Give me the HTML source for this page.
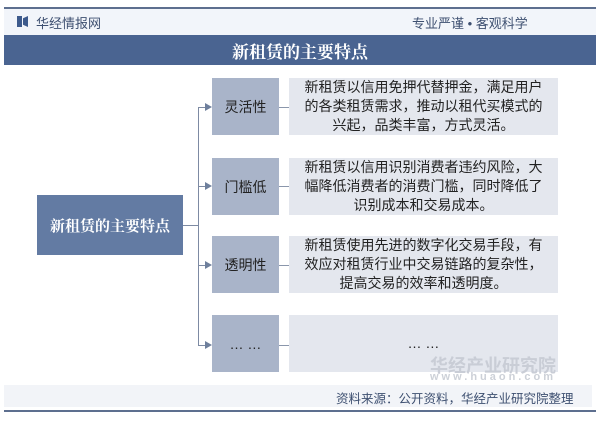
<!DOCTYPE html>
<html><head><meta charset="utf-8"><style>
*{margin:0;padding:0;box-sizing:border-box}
body{width:600px;height:421px;background:#fff;position:relative;overflow:hidden;font-family:"Liberation Sans","Noto Sans CJK SC",sans-serif}
.a{position:absolute}
.lab{position:absolute;left:212px;width:67px;height:57px;background:#a9b4c9;color:#222;font-size:14px;display:flex;align-items:center;justify-content:center}
.desc{position:absolute;left:289px;width:269px;height:57px;background:#e4e7ee;color:#222;font-size:14px;line-height:19px;display:flex;align-items:center;justify-content:center;text-align:center;padding:0 13px}
.h{position:absolute;left:279px;width:10px;height:1px;background:#8a96ab}
.ah{position:absolute;left:198px;width:8px;height:1px;background:#7d8aa3}
.tri{position:absolute;left:205px;width:0;height:0;border-left:7px solid #6e7f9c;border-top:4px solid transparent;border-bottom:4px solid transparent}
</style></head><body>
<div class="a" style="left:4px;top:7px;width:592px;height:2px;background:#5d6f8f"></div>
<div class="a" style="left:4px;top:9px;width:592px;height:26px;background:#f2f5fa"></div>
<div class="a" style="left:17px;top:16px;width:5px;height:11px;background:#3d5a8c"></div>
<div class="a" style="left:23px;top:16px;width:5px;height:11px;background:#3d5a8c;clip-path:polygon(0 20%,100% 0,100% 100%,0 80%)"></div>
<div class="a" style="left:36px;top:13px;font-size:13px;color:#3d4f70">华经情报网</div>
<div class="a" style="left:412px;top:13px;font-size:13px;color:#3d4f70">专业严谨 • 客观科学</div>
<div class="a" style="left:4px;top:35px;width:592px;height:30px;background:#4a6491;color:#fff;font-family:'Liberation Serif','Noto Serif CJK SC',serif;font-weight:bold;font-size:17px;display:flex;align-items:center;justify-content:center">新租赁的主要特点</div>

<div class="a" style="left:37px;top:195px;width:146px;height:60px;background:#637ba3;color:#fff;font-family:'Liberation Serif','Noto Serif CJK SC',serif;font-weight:bold;font-size:15px;display:flex;align-items:center;justify-content:center">新租赁的主要特点</div>
<div class="a" style="left:183px;top:225px;width:15px;height:1px;background:#7d8aa3"></div>
<div class="a" style="left:198px;top:107px;width:1px;height:239px;background:#7d8aa3"></div>

<div class="ah" style="top:107px"></div><div class="tri" style="top:103px"></div>
<div class="ah" style="top:186px"></div><div class="tri" style="top:182px"></div>
<div class="ah" style="top:265px"></div><div class="tri" style="top:261px"></div>
<div class="ah" style="top:345px"></div><div class="tri" style="top:341px"></div>

<div class="lab" style="top:78px">灵活性</div>
<div class="lab" style="top:158px">门槛低</div>
<div class="lab" style="top:236px">透明性</div>
<div class="lab" style="top:315px">… …</div>
<div class="h" style="top:107px"></div>
<div class="h" style="top:186px"></div>
<div class="h" style="top:265px"></div>
<div class="h" style="top:345px"></div>
<div class="desc" style="top:78px">新租赁以信用免押代替押金，满足用户的各类租赁需求，推动以租代买模式的兴起，品类丰富，方式灵活。</div>
<div class="desc" style="top:158px">新租赁以信用识别消费者违约风险，大幅降低消费者的消费门槛，同时降低了识别成本和交易成本。</div>
<div class="desc" style="top:236px">新租赁使用先进的数字化交易手段，有效应对租赁行业中交易链路的复杂性，提高交易的效率和透明度。</div>
<div class="desc" style="top:315px">… …</div>

<div class="a" style="left:430px;top:352px;font-size:18px;font-weight:bold;color:#c9cdd6">华经产业研究院</div>
<div class="a" style="left:4px;top:385px;width:588px;height:22px;background:#f2f4f8"></div>
<div class="a" style="left:430px;top:371px;font-size:11px;letter-spacing:3px;font-weight:bold;color:#cdd1d8">www.huaon.com</div>
<div class="a" style="left:336px;top:388px;font-size:12.5px;color:#3d4f70">资料来源：公开资料，华经产业研究院整理</div>
<div class="a" style="left:4px;top:410px;width:592px;height:2px;background:#5d6f8f"></div>
</body></html>
